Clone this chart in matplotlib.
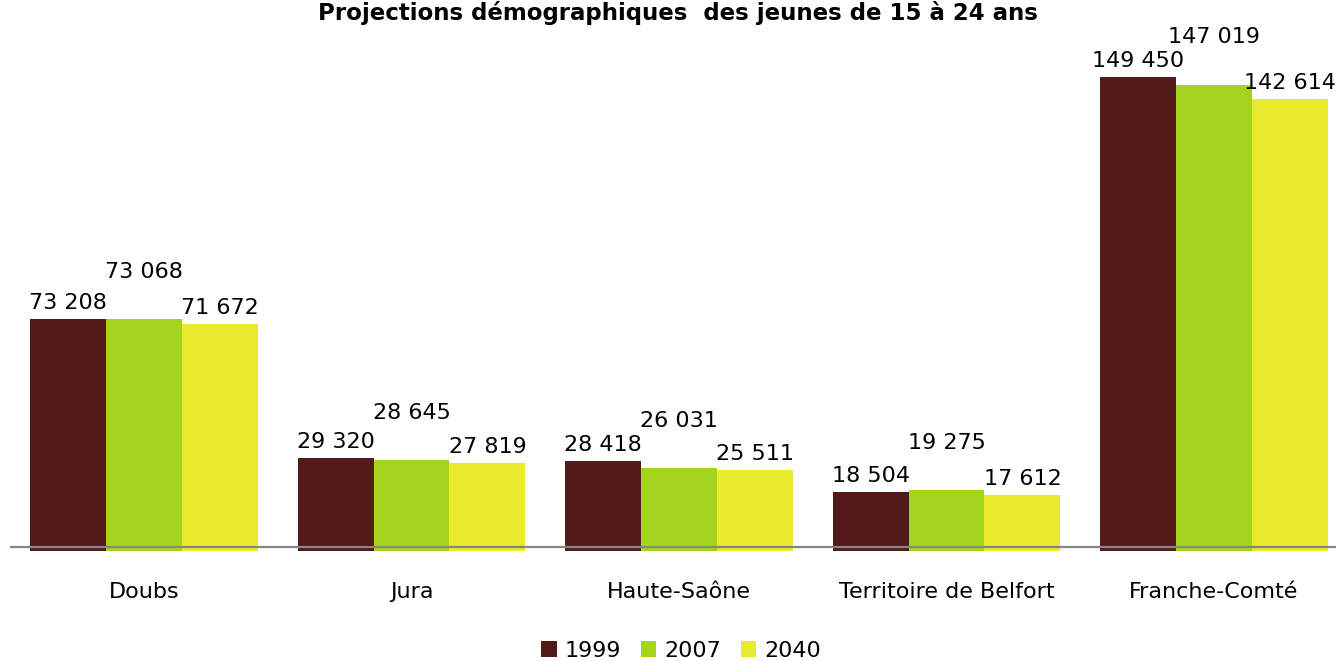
import matplotlib.pyplot as plt
import numpy as np

plt.rcParams['font.family'] = 'DejaVu Sans'

categories = ['Doubs', 'Jura', 'Haute-Saône', 'Territoire de Belfort', 'Franche-Comté']
years = ['1999', '2007', '2040']
v1999 = [73208, 29320, 28418, 18504, 149450]
v2007 = [73068, 28645, 26031, 19275, 147019]
v2040 = [71672, 27819, 25511, 17612, 142614]

colors = ['#521B1A', '#A5D41E', '#E9EA2D']
series = [v1999, v2007, v2040]
label_offsets = [11.5, 34, 11.5]  # points above bar top (2007 labels are staggered)

W, H = 1336, 661
fig = plt.figure(figsize=(W / 100, H / 100), dpi=100)

ymax = 160000
px_per_unit = 474 / 149450
ax_h = ymax * px_per_unit / H
ax = fig.add_axes([10.25 / W, 110 / H, 1337.5 / W, ax_h])

x = np.arange(len(categories))
bw = 0.284
for i, (vals, c, off) in enumerate(zip(series, colors, label_offsets)):
    xs = x + (i - 1) * bw
    ax.bar(xs, vals, width=bw, color=c, label=years[i], zorder=2)
    for xx, v in zip(xs, vals):
        ax.annotate(f'{v:,}'.replace(',', ' '), (xx, v), xytext=(0, off),
                    textcoords='offset points', ha='center', va='center',
                    fontsize=16, color='black')

ax.axhline(1250, color='#858585', lw=1.6, zorder=3, xmin=-0.01)
ax.set_xlim(-0.5, len(categories) - 0.5)
ax.set_ylim(0, ymax)
for s in ax.spines.values():
    s.set_visible(False)
ax.set_yticks([])
ax.set_xticks(x)
ax.set_xticklabels(categories, fontsize=16)
ax.tick_params(axis='x', length=0, pad=22)

fig.text(678 / W, 1 - 13 / H, 'Projections démographiques  des jeunes de 15 à 24 ans',
         ha='center', va='center', fontsize=16.5, fontweight='bold')

fig.legend(loc='center', bbox_to_anchor=(681 / W, 1 - 651 / H), ncol=3, frameon=False,
           fontsize=16, handlelength=0.7, handleheight=0.7, handletextpad=0.35,
           columnspacing=0.9)

fig.savefig('out.png', dpi=100)
